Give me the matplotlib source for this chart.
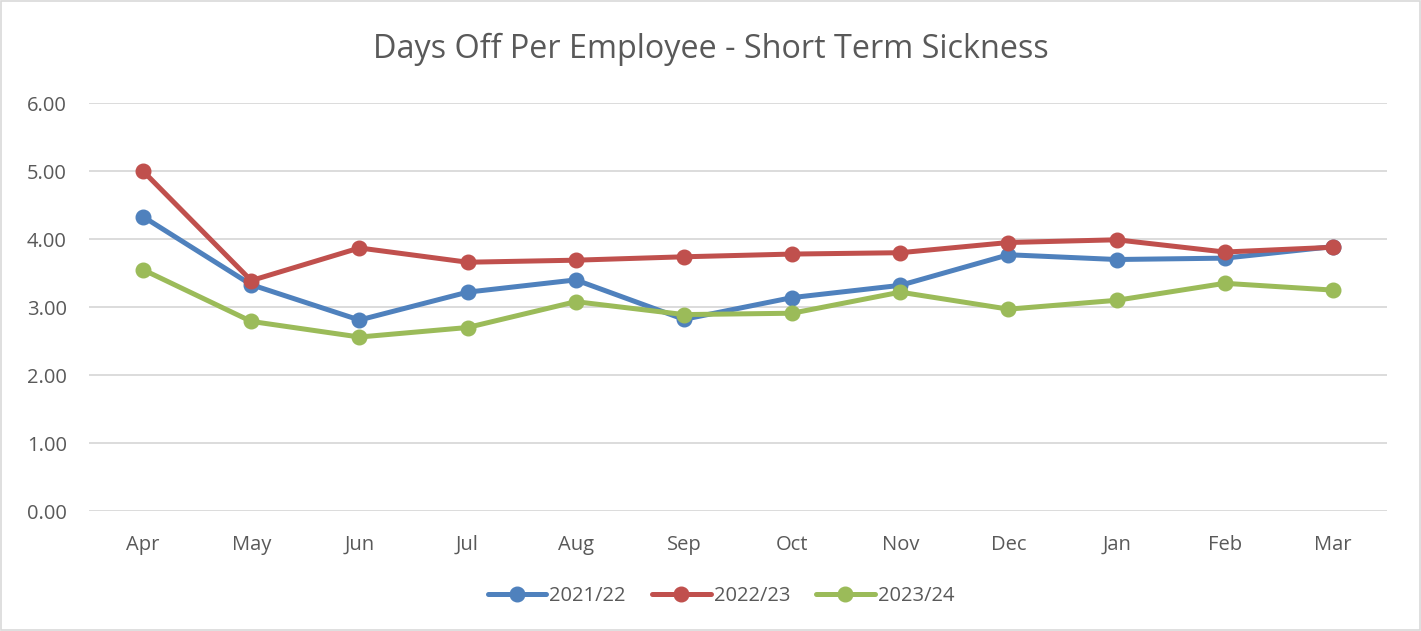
import matplotlib.pyplot as plt
from matplotlib.patches import Rectangle

months = ['Apr', 'May', 'Jun', 'Jul', 'Aug', 'Sep', 'Oct', 'Nov', 'Dec', 'Jan', 'Feb', 'Mar']
y2122 = [4.33, 3.33, 2.81, 3.22, 3.40, 2.82, 3.14, 3.32, 3.77, 3.70, 3.72, 3.89]
y2223 = [5.00, 3.39, 3.87, 3.66, 3.69, 3.74, 3.78, 3.80, 3.95, 3.99, 3.81, 3.88]
y2324 = [3.55, 2.79, 2.56, 2.70, 3.08, 2.89, 2.91, 3.22, 2.97, 3.10, 3.35, 3.25]
series_names = ['2021/22', '2022/23', '2023/24']
yticks = [0, 1, 2, 3, 4, 5, 6]

plt.rcParams['font.family'] = ['Open Sans', 'DejaVu Sans']
txt = '#595959'

fig = plt.figure(figsize=(14.21, 6.31), dpi=100)
ax = fig.add_axes([0.0626, 0.19, 0.9135, 0.6466])

x = list(range(len(months)))
for vals, name, col in zip([y2122, y2223, y2324], series_names, ['#4F81BD', '#C0504D', '#9BBB59']):
    ax.plot(x, vals, color=col, lw=3.6, marker='o', markersize=10.5, label=name,
            solid_capstyle='round', zorder=3)

ax.set_xlim(-0.5, 11.5)
ax.set_ylim(0, 6)
ax.set_yticks(yticks)
ax.set_yticklabels(['%.2f' % v for v in yticks])
ax.set_xticks(x)
ax.set_xticklabels(months)
ax.tick_params(length=0, labelsize=14.5, colors=txt)
ax.tick_params(axis='x', pad=17)
ax.tick_params(axis='y', pad=16)
for s in ax.spines.values():
    s.set_visible(False)
ax.grid(axis='y', color='#D9D9D9', lw=1.3)
ax.set_axisbelow(True)

fig.text(0.5, 0.922, 'Days Off Per Employee - Short Term Sickness', ha='center', va='center',
         fontsize=23.3, color=txt)

ax.legend(loc='center', bbox_to_anchor=(0.487, -0.208), ncol=3, frameon=False,
          fontsize=14.5, labelcolor=txt, handlelength=2.9, handletextpad=0.15, columnspacing=1.3)

fig.patches.append(Rectangle((0.001, 0.001), 0.998, 0.998, transform=fig.transFigure,
                             fill=False, edgecolor='#D9D9D9', lw=1.2))

fig.savefig('out.png', dpi=100)
